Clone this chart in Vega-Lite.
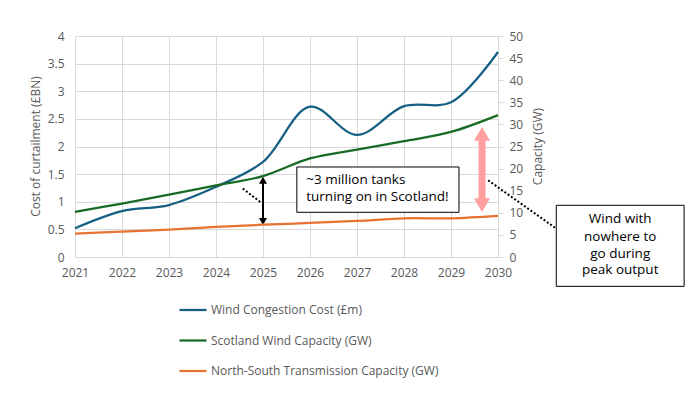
{
  "$schema": "https://vega.github.io/schema/vega-lite/v6.json",
  "width": 423,
  "height": 221,
  "autosize": "none",
  "padding": {"left": 75, "top": 36, "right": 194, "bottom": 142},
  "background": "white",
  "config": {
    "font": "Open Sans",
    "view": {"stroke": null},
    "axis": {"labelColor": "#595959", "titleColor": "#595959", "labelFontSize": 12, "titleFontSize": 12, "titleFontWeight": "normal", "gridColor": "#d9d9d9", "domainColor": "#d9d9d9", "tickColor": "#d9d9d9"},
    "legend": {"labelColor": "#595959", "labelFontSize": 12, "labelLimit": 400}
  },
  "datasets": {
    "series": [
      {"year": 2021, "series": "Wind Congestion Cost (£m)", "value": 0.52},
      {"year": 2022, "series": "Wind Congestion Cost (£m)", "value": 0.83},
      {"year": 2023, "series": "Wind Congestion Cost (£m)", "value": 0.94},
      {"year": 2024, "series": "Wind Congestion Cost (£m)", "value": 1.27},
      {"year": 2025, "series": "Wind Congestion Cost (£m)", "value": 1.72},
      {"year": 2026, "series": "Wind Congestion Cost (£m)", "value": 2.72},
      {"year": 2027, "series": "Wind Congestion Cost (£m)", "value": 2.21},
      {"year": 2028, "series": "Wind Congestion Cost (£m)", "value": 2.73},
      {"year": 2029, "series": "Wind Congestion Cost (£m)", "value": 2.8},
      {"year": 2030, "series": "Wind Congestion Cost (£m)", "value": 3.71},
      {"year": 2021, "series": "Scotland Wind Capacity (GW)", "value": 10.2},
      {"year": 2022, "series": "Scotland Wind Capacity (GW)", "value": 12.1},
      {"year": 2023, "series": "Scotland Wind Capacity (GW)", "value": 14.1},
      {"year": 2024, "series": "Scotland Wind Capacity (GW)", "value": 16.2},
      {"year": 2025, "series": "Scotland Wind Capacity (GW)", "value": 18.3},
      {"year": 2026, "series": "Scotland Wind Capacity (GW)", "value": 22.3},
      {"year": 2027, "series": "Scotland Wind Capacity (GW)", "value": 24.3},
      {"year": 2028, "series": "Scotland Wind Capacity (GW)", "value": 26.2},
      {"year": 2029, "series": "Scotland Wind Capacity (GW)", "value": 28.3},
      {"year": 2030, "series": "Scotland Wind Capacity (GW)", "value": 32.1},
      {"year": 2021, "series": "North-South Transmission Capacity (GW)", "value": 5.3},
      {"year": 2022, "series": "North-South Transmission Capacity (GW)", "value": 5.75},
      {"year": 2023, "series": "North-South Transmission Capacity (GW)", "value": 6.2},
      {"year": 2024, "series": "North-South Transmission Capacity (GW)", "value": 6.8},
      {"year": 2025, "series": "North-South Transmission Capacity (GW)", "value": 7.3},
      {"year": 2026, "series": "North-South Transmission Capacity (GW)", "value": 7.7},
      {"year": 2027, "series": "North-South Transmission Capacity (GW)", "value": 8.15},
      {"year": 2028, "series": "North-South Transmission Capacity (GW)", "value": 8.75},
      {"year": 2029, "series": "North-South Transmission Capacity (GW)", "value": 8.75},
      {"year": 2030, "series": "North-South Transmission Capacity (GW)", "value": 9.3}
    ]
  },
  "encoding": {
    "x": {"field": "year", "type": "quantitative", "scale": {"domain": [2021, 2030], "nice": false, "zero": false},
          "axis": {"values": [2021, 2022, 2023, 2024, 2025, 2026, 2027, 2028, 2029, 2030], "format": "d", "grid": true, "ticks": false, "domain": true, "labelPadding": 10, "title": null, "labelFlush": false}}
  },
  "layer": [
    {
      "encoding": {
        "y": {"field": "value", "type": "quantitative", "scale": {"domain": [0, 4], "nice": false, "zero": true},
              "axis": {"values": [0, 0.5, 1, 1.5, 2, 2.5, 3, 3.5, 4], "format": "~g", "grid": true, "ticks": false, "domain": false, "labelPadding": 11, "title": "Cost of curtailment (£BN)", "titleX": -40, "titleY": 110, "titleAngle": 270, "titleBaseline": "middle", "titleAlign": "center"}}
      },
      "layer": [
        {
          "data": {"name": "series"},
          "transform": [{"filter": "datum.series === 'Wind Congestion Cost (£m)'"}],
          "mark": {"type": "line", "interpolate": "catmull-rom", "strokeWidth": 2.25},
          "encoding": {
            "color": {"field": "series", "type": "nominal",
                      "scale": {"domain": ["Wind Congestion Cost (£m)", "Scotland Wind Capacity (GW)", "North-South Transmission Capacity (GW)"], "range": ["#156082", "#196B24", "#E97132"]},
                      "legend": {"orient": "none", "legendX": 103, "legendY": 259, "direction": "vertical", "title": null, "symbolType": "stroke", "symbolSize": 729, "symbolStrokeWidth": 2.25, "rowPadding": 9.5, "labelOffset": 3}}
          }
        },
        {
          "data": {"values": [{"year": 2025.72, "year2": 2029.17, "value": 1.629, "value2": 0.809}]},
          "mark": {"type": "rect", "fill": "white", "stroke": "black", "strokeWidth": 1},
          "encoding": {"x2": {"field": "year2"}, "y2": {"field": "value2"}}
        },
        {
          "data": {"values": [{"year": 2025.92, "value": 1.388, "t": "~3 million tanks"}, {"year": 2025.92, "value": 1.086, "t": "turning on in Scotland!"}]},
          "mark": {"type": "text", "align": "left", "baseline": "middle", "fontSize": 13.5, "color": "black"},
          "encoding": {"text": {"field": "t"}}
        },
        {
          "data": {"values": [{"year": 2031.24, "year2": 2033.96, "value": 0.936, "value2": -0.531}]},
          "mark": {"type": "rect", "fill": "white", "stroke": "black", "strokeWidth": 1},
          "encoding": {"x2": {"field": "year2"}, "y2": {"field": "value2"}}
        },
        {
          "data": {"values": [{"year": 2032.6, "value": 0.695, "t": "Wind with"}, {"year": 2032.6, "value": 0.362, "t": "nowhere to"}, {"year": 2032.6, "value": 0.062, "t": "go during"}, {"year": 2032.6, "value": -0.241, "t": "peak output"}]},
          "mark": {"type": "text", "align": "center", "baseline": "middle", "fontSize": 13.5, "color": "black"},
          "encoding": {"text": {"field": "t"}}
        },
        {
          "data": {"values": [{"year": 2024.57, "year2": 2024.96, "value": 1.238, "value2": 0.984}, {"year": 2029.79, "year2": 2031.21, "value": 1.388, "value2": 0.532}]},
          "mark": {"type": "rule", "color": "black", "strokeWidth": 2, "strokeDash": [2, 2]},
          "encoding": {"x2": {"field": "year2"}, "y2": {"field": "value2"}}
        },
        {
          "data": {"values": [{"year": 2025, "value": 1.39, "value2": 0.64}]},
          "mark": {"type": "rule", "color": "black", "strokeWidth": 2},
          "encoding": {"y2": {"field": "value2"}}
        },
        {
          "data": {"values": [{"year": 2025, "value": 1.388, "s": "triangle-up"}, {"year": 2025, "value": 0.644, "s": "triangle-down"}]},
          "mark": {"type": "point", "filled": true, "color": "black", "opacity": 1, "size": 64},
          "encoding": {"shape": {"field": "s", "type": "nominal", "scale": null, "legend": null}}
        },
        {
          "data": {"values": [{"year": 2029.66, "value": 2.228, "value2": 0.94}]},
          "mark": {"type": "rule", "color": "#ff9f9f", "strokeWidth": 7},
          "encoding": {"y2": {"field": "value2"}}
        },
        {
          "data": {"values": [{"year": 2029.66, "value": 2.228, "s": "triangle-up"}, {"year": 2029.66, "value": 0.94, "s": "triangle-down"}]},
          "mark": {"type": "point", "filled": true, "color": "#ff9f9f", "opacity": 1, "size": 256},
          "encoding": {"shape": {"field": "s", "type": "nominal", "scale": null, "legend": null}}
        }
      ]
    },
    {
      "encoding": {
        "y": {"field": "value", "type": "quantitative", "scale": {"domain": [0, 50], "nice": false, "zero": true},
              "axis": {"orient": "right", "values": [0, 5, 10, 15, 20, 25, 30, 35, 40, 45, 50], "grid": false, "ticks": true, "tickSize": 5, "domain": true, "labelPadding": 6, "title": "Capacity (GW)", "titleX": 39, "titleY": 110, "titleAngle": 270, "titleBaseline": "middle", "titleAlign": "center"}}
      },
      "layer": [
        {
          "data": {"name": "series"},
          "transform": [{"filter": "datum.series !== 'Wind Congestion Cost (£m)'"}],
          "mark": {"type": "line", "interpolate": "catmull-rom", "strokeWidth": 2.25},
          "encoding": {"color": {"field": "series", "type": "nominal"}}
        }
      ]
    }
  ],
  "resolve": {"scale": {"y": "independent"}, "axis": {"y": "independent"}}
}
